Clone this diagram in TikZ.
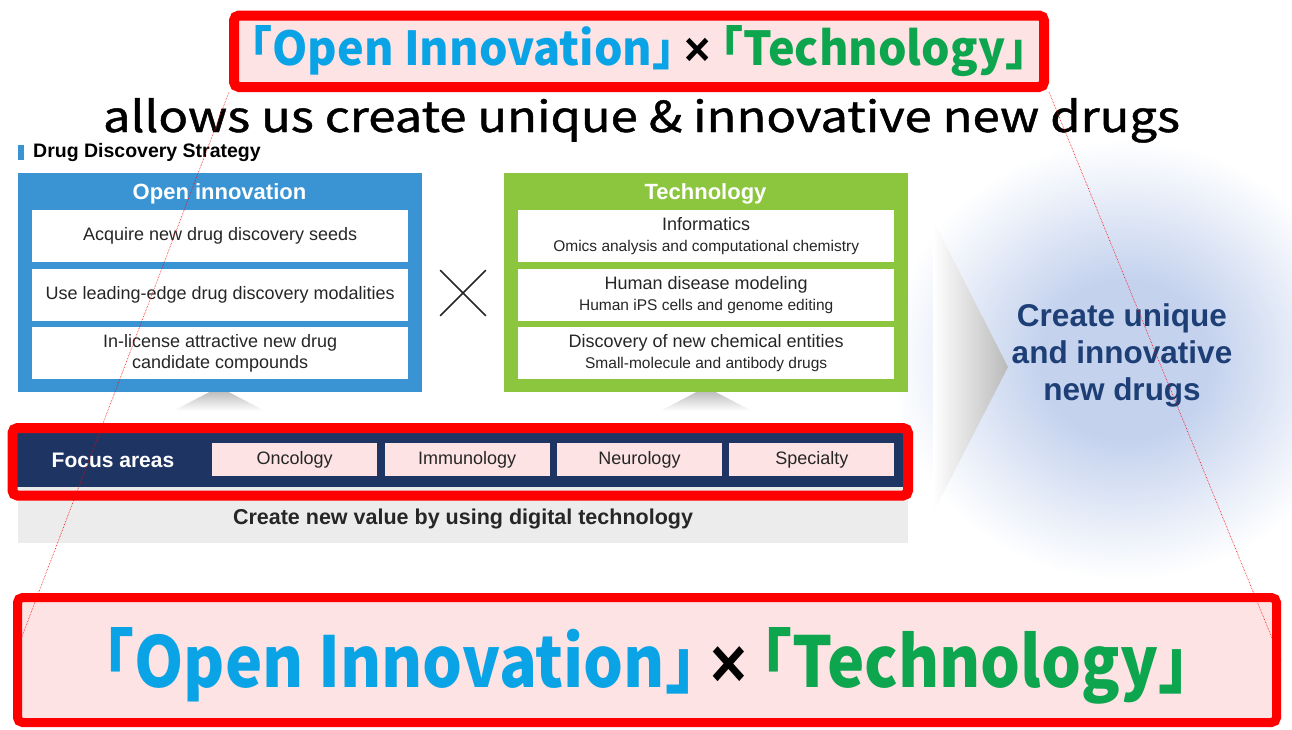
\documentclass[tikz,border=0pt]{standalone}
\usepackage{graphicx}
\usepackage{fontspec}
\setmainfont{Liberation Sans}
\newfontfamily\gothic[CharacterWidth=AlternateHalf]{Noto Sans CJK JP}
\newfontfamily\gothicmed[FakeBold=1]{Noto Sans CJK JP}
\usepackage{tikz}
\usetikzlibrary{positioning}
\usetikzlibrary{shapes.misc}

\definecolor{framered}{HTML}{FF0000}
\definecolor{framepink}{HTML}{FDE3E4}
\definecolor{oiblue}{HTML}{0AA4E6}
\definecolor{techgreen}{HTML}{0DA54E}
\definecolor{boxblue}{HTML}{3A94D4}
\definecolor{boxgreen}{HTML}{8CC63F}
\definecolor{bandnavy}{HTML}{1E3563}
\definecolor{drugnavy}{HTML}{1D3F75}
\definecolor{bandgray}{HTML}{ECECEC}
\definecolor{glowblue}{HTML}{C4D2EE}
\definecolor{itemtext}{HTML}{262626}

\pgfdeclareradialshading{glow}{\pgfpoint{0bp}{0bp}}{color(0bp)=(glowblue); color(9bp)=(glowblue); color(25bp)=(white); color(50bp)=(white)}

\newcommand{\fs}[2]{\fontsize{#1}{#2}\selectfont}
\newcommand{\techitem}[2]{{\fs{18}{21}#1}\\{\fs{15.5}{21}#2}}
\newcommand{\slogan}{\gothic\bfseries\textcolor{oiblue}{「Open Innovation」}\hspace{0.22em}{\normalfont\bfseries ×}\hspace{0.22em}\textcolor{techgreen}{「Technology」}}

\begin{document}
\begin{tikzpicture}[
x=1pt, y=-1pt,
item/.style={
    fill=white, text=itemtext,
    minimum width=376, minimum height=52,
    inner sep=0, align=center,
    font=\fs{18}{21}
},
area/.style={
    fill=framepink, text=itemtext,
    minimum width=165, minimum height=33,
    inner sep=0, font=\fs{18}{21}
},
panel/.style={
    minimum width=404, minimum height=219,
    inner sep=0, anchor=north west
},
paneltitle/.style={text=white, font=\bfseries\fs{22}{26}},
callout/.style={
    draw=framered, fill=framepink,
    rounded corners=5, inner sep=0
},
zoomline/.style={draw=framered, line width=0.6, densely dotted}
]
\useasboundingbox (0,0) rectangle (1292,729);

% glow and arrow behind the result
\shade[shading=glow] (1125,360) ellipse [x radius=235, y radius=220];
\shade[left color=white, right color=black!27] (933,220) -- (1008,367) -- (933,513) -- cycle;

% small pointers under both panels
\shade[top color=black!32, bottom color=white] (173,411) -- (219,387) -- (265,411) -- cycle;
\shade[top color=black!32, bottom color=white] (660,411) -- (706,387) -- (752,411) -- cycle;

% heading
\node[anchor=west, inner sep=0, font=\bfseries\fs{19.5}{22}] (strategy) at (33,152) {Drug Discovery Strategy};
\node[fill=boxblue, inner sep=0, minimum width=6, minimum height=15, left=9pt of strategy] {};

% open innovation panel
\node[panel, fill=boxblue] (openpanel) at (18,173) {};
\node[paneltitle] (opentitle) at (219.5,194) {Open innovation};
\node[item, anchor=north west] (seeds) at (32,210) {Acquire new drug discovery seeds};
\node[item, below=6pt of seeds] (modalities) {Use leading-edge drug discovery modalities};
\node[item, below=6pt of modalities] (inlicense) {In-license attractive new drug\\candidate compounds};

\node[cross out, draw=black!85, line width=1.6, minimum size=44, inner sep=0] (times) at (463,293) {};

% technology panel
\node[panel, fill=boxgreen] (techpanel) at (504,173) {};
\node[paneltitle] (techtitle) at (705.5,194) {Technology};
\node[item, anchor=north west] (informatics) at (518,210) {\techitem{Informatics}{Omics analysis and computational chemistry}};
\node[item, below=6pt of informatics] (modeling) {\techitem{Human disease modeling}{Human iPS cells and genome editing}};
\node[item, below=6pt of modeling] (entities) {\techitem{Discovery of new chemical entities}{Small-molecule and antibody drugs}};

% focus areas
\node[fill=bandgray, minimum width=890, minimum height=56, inner sep=0, anchor=north west] (digitalband) at (18,487) {};
\node[fill=bandnavy, minimum width=886, minimum height=55, inner sep=0, anchor=north west] (focusband) at (17,432) {};
\draw[framered, line width=10, rounded corners=5] (12.5,428) rectangle (908,495.5);
\node[paneltitle, font=\bfseries\fs{21}{24}] (focus) at (113,460) {Focus areas};
\node[area, anchor=north west] (oncology) at (212,443) {Oncology};
\node[area, right=7pt of oncology] (immunology) {Immunology};
\node[area, right=7pt of immunology] (neurology) {Neurology};
\node[area, right=7pt of neurology] (specialty) {Specialty};
\node[text=itemtext, font=\bfseries\fs{21.5}{24}] (digital) at (463,519) {Create new value by using digital technology};

% result
\node[text=drugnavy, align=center, font=\bfseries\fs{31.5}{37}] (newdrugs) at (1122,355) {Create unique\\and innovative\\new drugs};

% slogan frames
\node[callout, line width=10, minimum width=810, minimum height=71.5] (topframe) at (639,51.25) {};
\node[anchor=base, inner sep=0] (topslogan) at (639,65) {\resizebox{778pt}{40pt}{\fs{46}{50}\slogan}};
\node[anchor=base, inner sep=0] (tagline) at (641.5,132)
    {\resizebox{1077pt}{34pt}{\gothicmed\fs{44}{50}allows us create unique \& innovative new drugs}};
\node[callout, line width=9, minimum width=1259, minimum height=125] (bottomframe) at (647,660) {};
\node[anchor=base, inner sep=0] (bottomslogan) at (646.5,687) {\resizebox{1087pt}{60pt}{\fs{74}{80}\slogan}};

\draw[zoomline] (topframe.south west) -- (bottomframe.west);
\draw[zoomline] (topframe.south east) -- (bottomframe.east);
\end{tikzpicture}
\end{document}
